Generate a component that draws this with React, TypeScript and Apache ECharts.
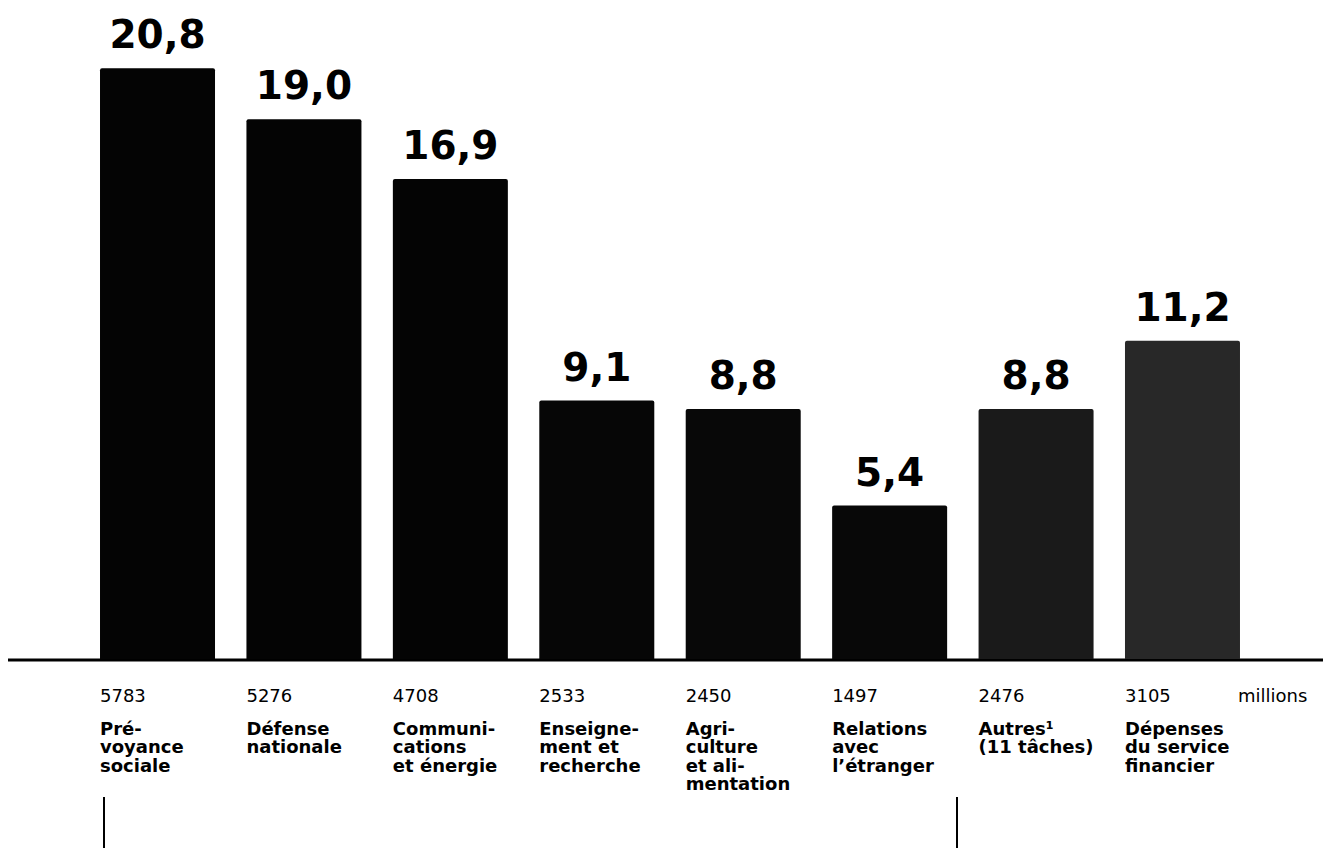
import React, { useEffect, useRef } from "react";
import * as echarts from "echarts";

const categories = [
  "Prévoyance sociale",
  "Défense nationale",
  "Communications et énergie",
  "Enseignement et recherche",
  "Agriculture et alimentation",
  "Relations avec l’étranger",
  "Autres¹ (11 tâches)",
  "Dépenses du service financier",
];
const nameLines = [
  ["Pré-", "voyance", "sociale"],
  ["Défense", "nationale"],
  ["Communi-", "cations", "et énergie"],
  ["Enseigne-", "ment et", "recherche"],
  ["Agri-", "culture", "et ali-", "mentation"],
  ["Relations", "avec", "l’étranger"],
  ["Autres¹", "(11 tâches)"],
  ["Dépenses", "du service", "financier"],
];
const amounts = [5783, 5276, 4708, 2533, 2450, 1497, 2476, 3105];
const shares = [20.8, 19.0, 16.9, 9.1, 8.8, 5.4, 8.8, 11.2];
const barColors = ["#040404", "#040404", "#040404", "#060606", "#080808", "#080808", "#1a1a1a", "#282828"];
const unitLabel = "millions";

export default function App() {
  const ref = useRef<HTMLDivElement>(null);
  useEffect(() => {
    if (!ref.current) return;
    const chart = echarts.init(ref.current, undefined, { renderer: "svg" });
    const option: any = {
      animation: false,
      backgroundColor: "#ffffff",
      grid: { left: 84.3, right: 67.3, top: 0, bottom: 189, containLabel: false },
      xAxis: {
        type: "category",
        data: categories,
        axisLine: { show: false },
        axisTick: { show: false },
        axisLabel: {
          interval: 0,
          hideOverlap: false,
          margin: 12,
          align: "center",
          formatter: (_v: string, i: number) =>
            `{n|${amounts[i]}}\n` + nameLines[i].map((l) => `{c|${l}}`).join("\n"),
          rich: {
            n: {
              width: 115,
              align: "left",
              fontFamily: "DejaVu Sans",
              fontSize: 18,
              color: "#000",
              lineHeight: 48,
            },
            c: {
              width: 115,
              align: "left",
              fontFamily: "DejaVu Sans",
              fontWeight: "bold",
              fontSize: 18,
              color: "#000",
              lineHeight: 18.5,
            },
          },
        },
      },
      yAxis: { type: "value", min: 0, max: 23.2, show: false, splitLine: { show: false } },
      series: [
        {
          type: "bar",
          barWidth: 115,
          data: shares.map((v, i) => ({ value: v, itemStyle: { color: barColors[i] } })),
          itemStyle: { borderRadius: [2, 2, 0, 0] },
          label: {
            show: true,
            position: "top",
            distance: 14,
            fontFamily: "DejaVu Sans",
            fontWeight: "bold",
            fontSize: 39,
            color: "#000",
            formatter: (p: any) => p.value.toFixed(1).replace(".", ","),
          },
        },
      ],
      graphic: [
        { type: "line", shape: { x1: 8, y1: 660, x2: 1323, y2: 660 }, style: { stroke: "#000", lineWidth: 3 } },
        {
          type: "text",
          left: 1238,
          top: 686,
          style: { text: unitLabel, fontFamily: "DejaVu Sans", fontSize: 18, fill: "#000" },
        },
        { type: "line", shape: { x1: 104, y1: 797, x2: 104, y2: 848 }, style: { stroke: "#000", lineWidth: 2 } },
        { type: "line", shape: { x1: 957, y1: 797, x2: 957, y2: 848 }, style: { stroke: "#000", lineWidth: 2 } },
      ],
    };
    chart.setOption(option);
    return () => chart.dispose();
  }, []);
  return (
    <div
      ref={ref}
      style={{ position: "fixed", left: 0, top: 0, width: 1323, height: 848, background: "#fff" }}
    />
  );
}
